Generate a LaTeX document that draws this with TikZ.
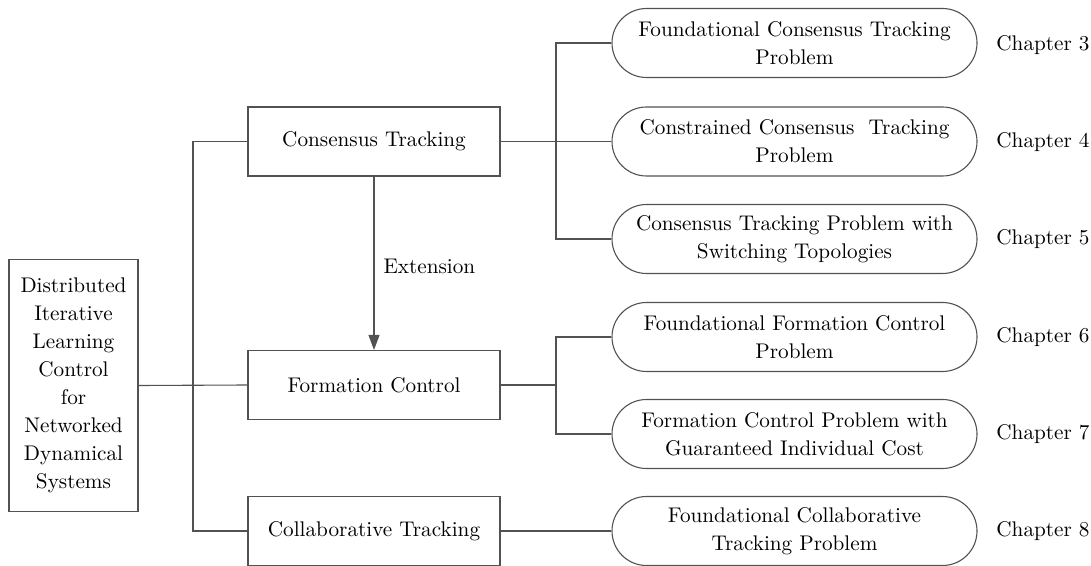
\documentclass[tikz,border=0pt]{standalone}
\usetikzlibrary{arrows.meta}
\begin{document}
\begin{tikzpicture}[x=0.5pt,y=-0.5pt,
  every node/.style={font=\fontsize{10.6}{14}\selectfont, inner sep=0pt},
  line/.style={draw=black!68, line width=0.55pt},
  boxnode/.style={line, rectangle, minimum width=126pt, minimum height=34.5pt, align=center},
  pill/.style={line, rectangle, rounded corners=17.25pt, minimum width=182.5pt, minimum height=34.5pt, align=center},
  chap/.style={anchor=west},
  conn/.style={line}
]
\useasboundingbox (0,0) rectangle (1091,566);
% left root box
\node[line, rectangle, minimum width=64.5pt, minimum height=126pt, align=center] (root) at (73.5,385.5)
  {Distributed\\Iterative\\Learning\\Control\\for\\Networked\\Dynamical\\Systems};
% middle boxes
\node[boxnode] (cons) at (374,141.5) {Consensus Tracking};
\node[boxnode] (form) at (374,385) {Formation Control};
\node[boxnode] (coll) at (374,531) {Collaborative Tracking};
% pills
\node[pill] (p1) at (794.5,43) {Foundational Consensus Tracking\\Problem};
\node[pill] (p2) at (794.5,141.5) {Constrained Consensus\ \ Tracking\\Problem};
\node[pill] (p3) at (794.5,239) {Consensus Tracking Problem with\\Switching Topologies};
\node[pill] (p4) at (794.5,337) {Foundational Formation Control\\Problem};
\node[pill] (p5) at (794.5,434) {Formation Control Problem with\\Guaranteed Individual Cost};
\node[pill] (p6) at (794.5,531) {Foundational Collaborative\\Tracking Problem};
% chapter labels
\node[chap] (c3) at (996,45) {Chapter 3};
\node[chap] (c4) at (996,142) {Chapter 4};
\node[chap] (c5) at (996,239) {Chapter 5};
\node[chap] (c6) at (996,337) {Chapter 6};
\node[chap] (c7) at (996,434) {Chapter 7};
\node[chap] (c8) at (996,531) {Chapter 8};
% bus coordinates
\coordinate (bL) at (193,141.5);
\coordinate (bA) at (556,141.5);
\coordinate (bB) at (556,385);
% connectors
\draw[conn] (root.east) -- (form.west);
\draw[conn] (cons.west) -- (bL) |- (coll.west);
\draw[conn] (cons.east) -- (p2.west);
\draw[conn] (p1.west) -| (bA) |- (p3.west);
\draw[conn] (form.east) -- (bB);
\draw[conn] (p4.west) -| (bB) |- (p5.west);
\draw[conn] (coll.east) -- (p6.west);
\draw[conn, -{Triangle[length=7.5pt,width=5.5pt]}, fill=black!68] (cons.south) -- (form.north)
  node[pos=0.52, anchor=west, xshift=4.5pt] (ext) {Extension};
\end{tikzpicture}
\end{document}
